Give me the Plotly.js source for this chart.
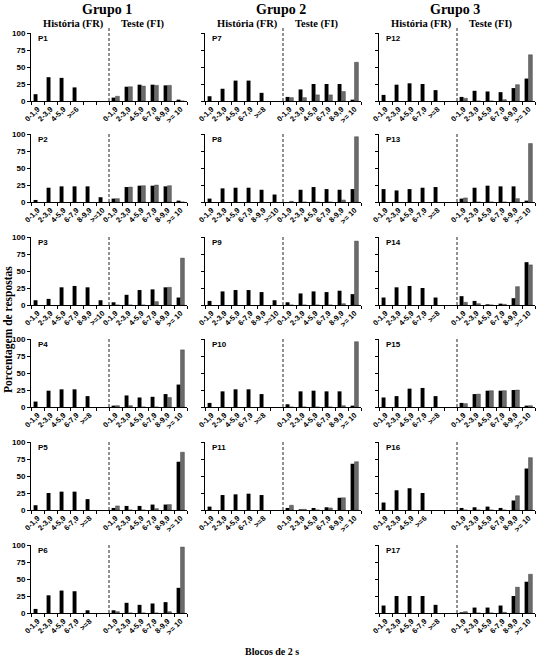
<!DOCTYPE html>
<html>
<head>
<meta charset="utf-8">
<script src="https://cdn.plot.ly/plotly-3.0.1.min.js"></script>
<style>html,body{margin:0;padding:0;background:#fff;}</style>
</head>
<body>
<div id="chart" style="width:538px;height:663px;"></div>
<script>
// rótulos das categorias (blocos de 2 s)
const hist4 = ['0-1,9', '2-3,9', '4-5,9', '>=6'];
const hist5 = ['0-1,9', '2-3,9', '4-5,9', '6-7,9', '>=8'];
const hist6 = ['0-1,9', '2-3,9', '4-5,9', '6-7,9', '8-9,9', '>=10'];
const testLabels = ['0-1,9', '2-3,9', '4-5,9', '6-7,9', '8-9,9', '>= 10'];

// porcentagem de respostas: história (FR), teste (FI) preto, teste (FI) cinza
const p1Hist = [10, 35, 34, 20],          p1Preto = [5, 21, 24, 24, 23, 2],   p1Cinza = [7, 21, 22, 23, 23, 0];
const p2Hist = [3, 21, 23, 23, 23, 7],    p2Preto = [5, 22, 24, 24, 23, 2],   p2Cinza = [5, 22, 24, 25, 24, 0];
const p3Hist = [7, 9, 26, 28, 26, 7],     p3Preto = [4, 15, 22, 23, 26, 11],  p3Cinza = [0, 0, 0, 5, 26, 69];
const p4Hist = [8, 24, 26, 26, 16],       p4Preto = [2, 17, 14, 15, 19, 33],  p4Cinza = [2, 2, 0, 0, 14, 84];
const p5Hist = [7, 25, 27, 27, 16],       p5Preto = [3, 6, 6, 8, 8, 71],      p5Cinza = [6, 0, 0, 2, 8, 85];
const p6Hist = [6, 26, 33, 32, 4],        p6Preto = [4, 15, 12, 14, 16, 37],  p6Cinza = [2, 0, 0, 0, 2, 97];
const p7Hist = [7, 18, 30, 30, 12],       p7Preto = [6, 17, 25, 25, 25, 2],   p7Cinza = [5, 5, 9, 9, 14, 57];
const p8Hist = [5, 20, 21, 21, 18, 11],   p8Preto = [0, 18, 22, 19, 18, 19],  p8Cinza = [1, 0, 0, 0, 3, 96];
const p9Hist = [6, 20, 22, 22, 19, 7],    p9Preto = [4, 17, 20, 19, 21, 16],  p9Cinza = [0, 0, 0, 0, 2, 94];
const p10Hist = [6, 23, 26, 26, 19],      p10Preto = [4, 23, 24, 23, 23, 2],  p10Cinza = [0, 0, 0, 0, 2, 96];
const p11Hist = [5, 22, 23, 24, 22],      p11Preto = [3, 1, 3, 4, 18, 68],    p11Cinza = [7, 1, 0, 3, 18, 71];
const p12Hist = [9, 24, 26, 25, 16],      p12Preto = [6, 15, 14, 13, 19, 33], p12Cinza = [4, 0, 0, 2, 24, 68];
const p13Hist = [19, 17, 19, 21, 22],     p13Preto = [5, 21, 24, 23, 23, 2],  p13Cinza = [6, 0, 0, 0, 5, 86];
const p14Hist = [11, 26, 28, 25, 11],     p14Preto = [13, 6, 1, 2, 10, 63],   p14Cinza = [4, 2, 0, 1, 27, 59];
const p15Hist = [14, 16, 27, 28, 16],     p15Preto = [6, 19, 24, 24, 25, 2],  p15Cinza = [5, 19, 24, 24, 25, 2];
const p16Hist = [11, 29, 32, 25],         p16Preto = [3, 4, 5, 3, 14, 61],    p16Cinza = [0, 0, 0, 0, 21, 77];
const p17Hist = [11, 25, 25, 25, 12],     p17Preto = [1, 8, 8, 11, 25, 46],   p17Cinza = [2, 0, 0, 1, 38, 57];

const panels = [
  {name: 'P1', col: 0, row: 0, cats: hist4, hist: p1Hist, preto: p1Preto, cinza: p1Cinza},
  {name: 'P2', col: 0, row: 1, cats: hist6, hist: p2Hist, preto: p2Preto, cinza: p2Cinza},
  {name: 'P3', col: 0, row: 2, cats: hist6, hist: p3Hist, preto: p3Preto, cinza: p3Cinza},
  {name: 'P4', col: 0, row: 3, cats: hist5, hist: p4Hist, preto: p4Preto, cinza: p4Cinza},
  {name: 'P5', col: 0, row: 4, cats: hist5, hist: p5Hist, preto: p5Preto, cinza: p5Cinza},
  {name: 'P6', col: 0, row: 5, cats: hist5, hist: p6Hist, preto: p6Preto, cinza: p6Cinza},
  {name: 'P7', col: 1, row: 0, cats: hist5, hist: p7Hist, preto: p7Preto, cinza: p7Cinza},
  {name: 'P8', col: 1, row: 1, cats: hist6, hist: p8Hist, preto: p8Preto, cinza: p8Cinza},
  {name: 'P9', col: 1, row: 2, cats: hist6, hist: p9Hist, preto: p9Preto, cinza: p9Cinza},
  {name: 'P10', col: 1, row: 3, cats: hist5, hist: p10Hist, preto: p10Preto, cinza: p10Cinza},
  {name: 'P11', col: 1, row: 4, cats: hist5, hist: p11Hist, preto: p11Preto, cinza: p11Cinza},
  {name: 'P12', col: 2, row: 0, cats: hist5, hist: p12Hist, preto: p12Preto, cinza: p12Cinza},
  {name: 'P13', col: 2, row: 1, cats: hist5, hist: p13Hist, preto: p13Preto, cinza: p13Cinza},
  {name: 'P14', col: 2, row: 2, cats: hist5, hist: p14Hist, preto: p14Preto, cinza: p14Cinza},
  {name: 'P15', col: 2, row: 3, cats: hist5, hist: p15Hist, preto: p15Preto, cinza: p15Cinza},
  {name: 'P16', col: 2, row: 4, cats: hist4, hist: p16Hist, preto: p16Preto, cinza: p16Cinza},
  {name: 'P17', col: 2, row: 5, cats: hist5, hist: p17Hist, preto: p17Preto, cinza: p17Cinza}
];

const W = 538, H = 663;
const colLeft = [31, 205, 379], colWidth = 156;
const rowTop = [33, 134, 237, 339, 442, 545], rowHeight = 68;
const TEST_START = 6;

const sans = 'Liberation Sans, Arial, sans-serif';
const serif = 'Liberation Serif, Times New Roman, serif';

const data = [];
const layout = {
  width: W, height: H,
  margin: {l: 0, r: 0, t: 0, b: 0},
  paper_bgcolor: '#fff', plot_bgcolor: '#fff',
  showlegend: false,
  barmode: 'group', bargap: 0.4, bargroupgap: 0,
  shapes: [], annotations: []
};

panels.forEach(function (p, k) {
  const n = k === 0 ? '' : String(k + 1);
  const xa = 'x' + n, ya = 'y' + n;
  const histX = p.hist.map(function (v, i) { return i; });
  const testX = testLabels.map(function (v, j) { return TEST_START + j; });

  data.push({
    type: 'bar', x: histX.concat(testX), y: p.hist.concat(p.preto),
    xaxis: xa, yaxis: ya, marker: {color: '#000'}, hoverinfo: 'y'
  });
  data.push({
    type: 'bar', x: testX, y: p.cinza,
    xaxis: xa, yaxis: ya, marker: {color: '#6b6b6b', line: {color: '#333', width: 0.4}}, hoverinfo: 'y'
  });

  const x0 = colLeft[p.col] / W, x1 = (colLeft[p.col] + colWidth) / W;
  const yTop = 1 - rowTop[p.row] / H, yBot = 1 - (rowTop[p.row] + rowHeight) / H;

  layout['xaxis' + n] = {
    domain: [x0, x1], anchor: ya, range: [-0.5, 11.5],
    tickmode: 'array', tickvals: histX.concat(testX), ticktext: p.cats.concat(testLabels),
    tickangle: -45, ticks: '', tickfont: {family: sans, size: 7.5, color: '#000', weight: 'bold'},
    minor: {tickmode: 'linear', tick0: 0.5, dtick: 1, ticks: 'outside', ticklen: 3, tickcolor: '#000'},
    showline: true, linecolor: '#000', linewidth: 1, showgrid: false, zeroline: false, fixedrange: true
  };
  layout['yaxis' + n] = {
    domain: [yBot, yTop], anchor: xa, range: [0, 100],
    tickmode: 'array', tickvals: [0, 25, 50, 75, 100],
    showticklabels: p.col === 0, ticks: 'outside', ticklen: 3, tickcolor: '#000',
    tickfont: {family: sans, size: 8, color: '#000', weight: 'bold'},
    showline: true, linecolor: '#000', linewidth: 1, showgrid: false, zeroline: false, fixedrange: true
  };

  // linha tracejada entre história e teste
  layout.shapes.push({
    type: 'line', xref: xa, yref: ya + ' domain',
    x0: TEST_START - 0.5, x1: TEST_START - 0.5, y0: 0, y1: p.row === 0 ? 1.08 : 1.03,
    line: {color: '#222', width: 1, dash: '3px,2px'}
  });

  layout.annotations.push({
    text: '<b>' + p.name + '</b>', xref: xa + ' domain', yref: ya + ' domain',
    x: 0.03, y: 1.02, xanchor: 'left', yanchor: 'top', showarrow: false,
    font: {family: sans, size: 8, color: '#000'}
  });

  if (p.row === 0) {
    layout.annotations.push({
      text: '<b>História (FR)</b>', xref: xa + ' domain', yref: 'paper',
      x: 0.27, y: 1 - 24 / H, xanchor: 'center', yanchor: 'middle', showarrow: false,
      font: {family: serif, size: 10.5, color: '#000'}
    });
    layout.annotations.push({
      text: '<b>Teste (FI)</b>', xref: xa + ' domain', yref: 'paper',
      x: 0.72, y: 1 - 24 / H, xanchor: 'center', yanchor: 'middle', showarrow: false,
      font: {family: serif, size: 10.5, color: '#000'}
    });
    layout.annotations.push({
      text: '<b>Grupo ' + (p.col + 1) + '</b>', xref: xa + ' domain', yref: 'paper',
      x: 0.49, y: 1 - 10 / H, xanchor: 'center', yanchor: 'middle', showarrow: false,
      font: {family: serif, size: 14, color: '#000'}
    });
  }
});

layout.annotations.push({
  text: '<b>Porcentagem de respostas</b>', xref: 'paper', yref: 'paper',
  x: 8 / W, y: 1 - 330 / H, xanchor: 'center', yanchor: 'middle', textangle: -90,
  showarrow: false, font: {family: serif, size: 11.5, color: '#000'}
});
layout.annotations.push({
  text: '<b>Blocos de 2 s</b>', xref: 'paper', yref: 'paper',
  x: 272 / W, y: 1 - 651 / H, xanchor: 'center', yanchor: 'middle',
  showarrow: false, font: {family: serif, size: 10, color: '#000'}
});

Plotly.newPlot('chart', data, layout, {staticPlot: true});
</script>
</body>
</html>
